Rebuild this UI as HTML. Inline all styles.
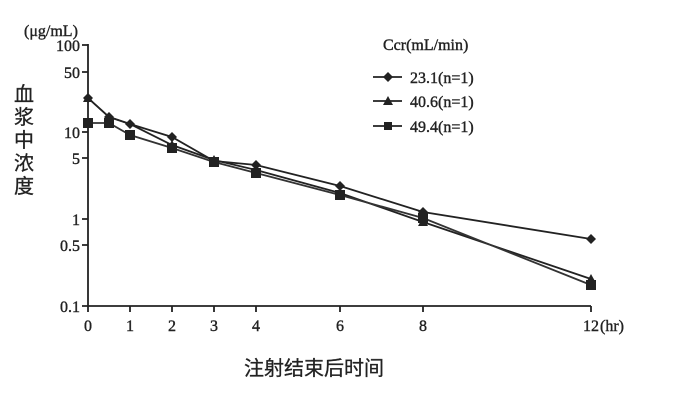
<!DOCTYPE html>
<html><head><meta charset="utf-8"><style>body{margin:0;background:#fff}</style></head>
<body>
<svg width="675" height="402" xmlns="http://www.w3.org/2000/svg" font-family="'Liberation Serif','Noto Serif CJK SC',serif" fill="#222">
<defs>
<symbol id="d" viewBox="-5 -5 10 10" overflow="visible"><path d="M0,-5 L5,0 L0,5 L-5,0Z" fill="#222"/></symbol>
<symbol id="t" viewBox="-5 -5 10 10" overflow="visible"><path d="M0,-5 L5,4 L-5,4Z" fill="#222"/></symbol>
<symbol id="s" viewBox="-5 -5 10 10" overflow="visible"><rect x="-5" y="-5" width="10" height="10" fill="#222"/></symbol>
</defs>
<g stroke="#222" stroke-width="1.8" fill="none">
<path d="M88,44 V306 H591"/>
<path d="M82,45 H88 M82,72 H88 M82,132 H88 M82,158 H88 M82,219 H88 M82,245 H88 M82,306 H88"/>
<path d="M88,306 v6 M130,306 v6 M172,306 v6 M214,306 v6 M256,306 v6 M340,306 v6 M423,306 v6 M591,306 v6"/>
<polyline points="88,98 109,117 130,124 172,137 214,161 256,165 340,186 423,212 591,239"/>
<polyline points="88,98 109,117 130,124 172,145 214,160 256,170 340,193 423,222 591,279"/>
<polyline points="88,123 109,123 130,135 172,148 214,162 256,173 340,195 423,218 591,285" stroke="#333"/>
<path d="M373,77 H402 M373,101 H402 M373,126 H402"/>
</g>
<g>
<use href="#d" x="83" y="93" width="10" height="10"/><use href="#d" x="104" y="112" width="10" height="10"/><use href="#d" x="125" y="119" width="10" height="10"/><use href="#d" x="167" y="132" width="10" height="10"/><use href="#d" x="209" y="156" width="10" height="10"/><use href="#d" x="251" y="160" width="10" height="10"/><use href="#d" x="335" y="181" width="10" height="10"/><use href="#d" x="418" y="207" width="10" height="10"/><use href="#d" x="586" y="234" width="10" height="10"/>
<use href="#t" x="83" y="93" width="10" height="10"/><use href="#t" x="104" y="112" width="10" height="10"/><use href="#t" x="167" y="140" width="10" height="10"/><use href="#t" x="209" y="155" width="10" height="10"/><use href="#t" x="251" y="165" width="10" height="10"/><use href="#t" x="335" y="188" width="10" height="10"/><use href="#t" x="418" y="217" width="10" height="10"/><use href="#t" x="586" y="274" width="10" height="10"/>
<use href="#s" x="83" y="118" width="10" height="10"/><use href="#s" x="104" y="118" width="10" height="10"/><use href="#s" x="125" y="130" width="10" height="10"/><use href="#s" x="167" y="143" width="10" height="10"/><use href="#s" x="209" y="157" width="10" height="10"/><use href="#s" x="251" y="168" width="10" height="10"/><use href="#s" x="335" y="190" width="10" height="10"/><use href="#s" x="418" y="213" width="10" height="10"/><use href="#s" x="586" y="280" width="10" height="10"/>
<use href="#d" x="383" y="72" width="10" height="10"/><use href="#t" x="383" y="96" width="10" height="10"/><use href="#s" x="384" y="122" width="8" height="8"/>
</g>
<g font-size="16" stroke="#222" stroke-width="0.4">
<text x="24" y="36">(μg/mL)</text>
<g text-anchor="end"><text x="80" y="51">100</text><text x="80" y="78">50</text><text x="80" y="138">10</text><text x="80" y="164">5</text><text x="80" y="225">1</text><text x="80" y="251">0.5</text><text x="80" y="312">0.1</text></g>
<g text-anchor="middle"><text x="88" y="331">0</text><text x="130" y="331">1</text><text x="172" y="331">2</text><text x="214" y="331">3</text><text x="256" y="331">4</text><text x="340" y="331">6</text><text x="423" y="331">8</text><text x="591" y="331">12</text></g>
<text x="600" y="331">(hr)</text>
<text x="383" y="50">Ccr(mL/min)</text>
<text x="410" y="83">23.1(n=1)</text><text x="410" y="107">40.6(n=1)</text><text x="410" y="132">49.4(n=1)</text>
</g>
<g font-family="'Liberation Sans','Noto Sans CJK SC',sans-serif" font-size="20" stroke="#222" stroke-width="0.3">
<text x="14" y="101">血</text><text x="14" y="124">浆</text><text x="14" y="147">中</text><text x="14" y="170">浓</text><text x="14" y="193">度</text>
<text x="244" y="375" font-size="20">注射结束后时间</text>
</g>
</svg>
</body></html>
